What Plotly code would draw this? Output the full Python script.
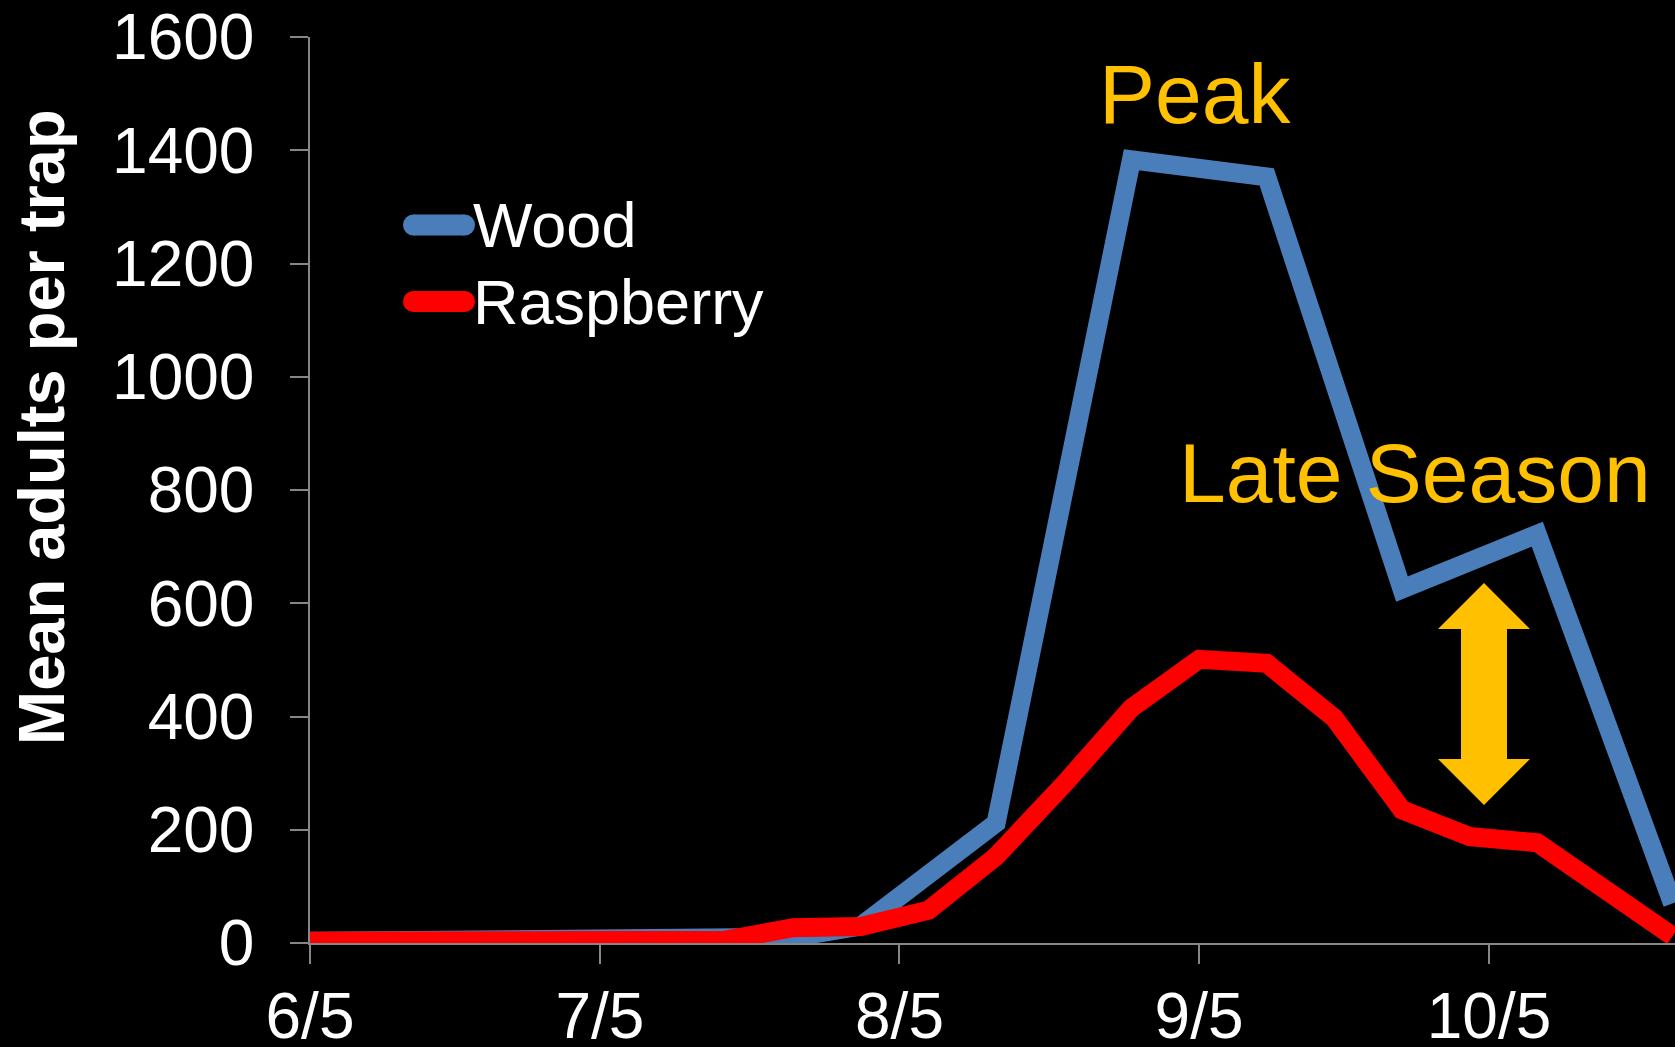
import plotly.graph_objects as go

# ---------------- data ----------------
wood_dates = ["2012-06-05", "2012-07-04", "2012-07-18", "2012-07-25", "2012-08-01",
              "2012-08-15", "2012-08-29", "2012-09-12", "2012-09-26", "2012-10-10",
              "2012-10-24"]
wood_values = [3, 5, 8, 10, 30, 212, 1383, 1353, 625, 722, 70]

rasp_dates = ["2012-06-05", "2012-07-18", "2012-07-25", "2012-08-01", "2012-08-08",
              "2012-08-15", "2012-08-22", "2012-08-29", "2012-09-05", "2012-09-12",
              "2012-09-19", "2012-09-26", "2012-10-03", "2012-10-10", "2012-10-24"]
rasp_values = [3, 5, 27, 29, 58, 153, 280, 415, 501, 494, 397, 235, 188, 177, 12]

x_tick_dates = ["2012-06-05", "2012-07-05", "2012-08-05", "2012-09-05", "2012-10-05"]
x_tick_labels = ["6/5", "7/5", "8/5", "9/5", "10/5"]
y_tick_values = [0, 200, 400, 600, 800, 1000, 1200, 1400, 1600]

series_names = ["Wood", "Raspberry"]
y_title = "Mean adults per trap"
note_peak = "Peak"
note_late = "Late Season"

# ---------------- layout geometry ----------------
W, H = 1675, 1047
L, R, T, B = 310, 0, 37, 104
PW, PH = W - L - R, H - T - B

def px(x):
    return (x - L) / PW

def py(y):
    return (T + PH - y) / PH

FONT = "Arial, 'Liberation Sans', sans-serif"
BLUE = "#4A7EBB"
RED = "#FF0000"
ORANGE = "#FFC000"
AXIS = "#868686"

fig = go.Figure()
fig.add_trace(go.Scatter(x=wood_dates, y=wood_values, mode="lines", name=series_names[0],
                         line=dict(color=BLUE, width=19), showlegend=False))
fig.add_trace(go.Scatter(x=rasp_dates, y=rasp_values, mode="lines", name=series_names[1],
                         line=dict(color=RED, width=19), showlegend=False))

shapes = []
annotations = []

# manual legend (rounded line keys + labels)
for name, color, cy in [(series_names[0], BLUE, 225), (series_names[1], RED, 301.5)]:
    x0, x1, r = 403, 475, 10.5
    shapes.append(dict(type="rect", xref="paper", yref="paper",
                       x0=px(x0 + r), x1=px(x1 - r), y0=py(cy + r), y1=py(cy - r),
                       fillcolor=color, line=dict(width=0)))
    for cx in (x0 + r, x1 - r):
        shapes.append(dict(type="circle", xref="paper", yref="paper",
                           x0=px(cx - r), x1=px(cx + r), y0=py(cy + r), y1=py(cy - r),
                           fillcolor=color, line=dict(width=0)))
    annotations.append(dict(text=name, xref="paper", yref="paper", x=px(471), y=py(cy),
                            xanchor="left", yanchor="middle", showarrow=False,
                            font=dict(family=FONT, size=63, color="white")))

# double-headed arrow
cx = 1484
pts = [(cx, 583), (1530, 629), (1507, 629), (1507, 759), (1530, 759), (cx, 805),
       (1438, 759), (1461, 759), (1461, 629), (1438, 629)]
path = "M " + " L ".join(f"{px(x):.5f},{py(y):.5f}" for x, y in pts) + " Z"
shapes.append(dict(type="path", xref="paper", yref="paper", path=path,
                   fillcolor=ORANGE, line=dict(width=0)))

# text notes
annotations.append(dict(text=note_peak, xref="paper", yref="paper", x=px(1097), y=py(94),
                        xanchor="left", yanchor="middle", showarrow=False,
                        font=dict(family=FONT, size=84, color=ORANGE)))
annotations.append(dict(text=note_late, xref="paper", yref="paper", x=px(1177), y=py(473),
                        xanchor="left", yanchor="middle", showarrow=False,
                        font=dict(family=FONT, size=84, color=ORANGE)))

# y-axis title
annotations.append(dict(text=y_title, xref="paper", yref="paper", x=px(41), y=py(427),
                        xanchor="center", yanchor="middle", textangle=-90, showarrow=False,
                        font=dict(family=FONT, size=65, color="white", weight="bold")))

fig.update_layout(
    width=W, height=H, autosize=False,
    margin=dict(l=L, r=R, t=T, b=B, pad=0),
    paper_bgcolor="black", plot_bgcolor="black",
    showlegend=False,
    shapes=shapes, annotations=annotations,
    font=dict(family=FONT, color="white"),
    xaxis=dict(type="date", range=["2012-06-05", "2012-10-24 06:00"], automargin=False,
               tickmode="array", tickvals=x_tick_dates, ticktext=x_tick_labels,
               showgrid=False, zeroline=False, showline=True, linecolor=AXIS, linewidth=1.5,
               ticks="outside", ticklen=19, tickcolor=AXIS, tickwidth=1.5,
               tickfont=dict(family=FONT, size=64, color="white"), ticklabelstandoff=-3),
    yaxis=dict(range=[0, 1600], tickmode="array", tickvals=y_tick_values, automargin=False,
               showgrid=False, zeroline=False, showline=True, linecolor=AXIS, linewidth=1.5,
               ticks="outside", ticklen=18, tickcolor=AXIS, tickwidth=1.5,
               tickfont=dict(family=FONT, size=64, color="white"), ticklabelstandoff=23),
)

fig.write_html("out.html", config={"displayModeBar": False},
               post_script="document.body.style.margin='0';document.body.style.background='black';")
